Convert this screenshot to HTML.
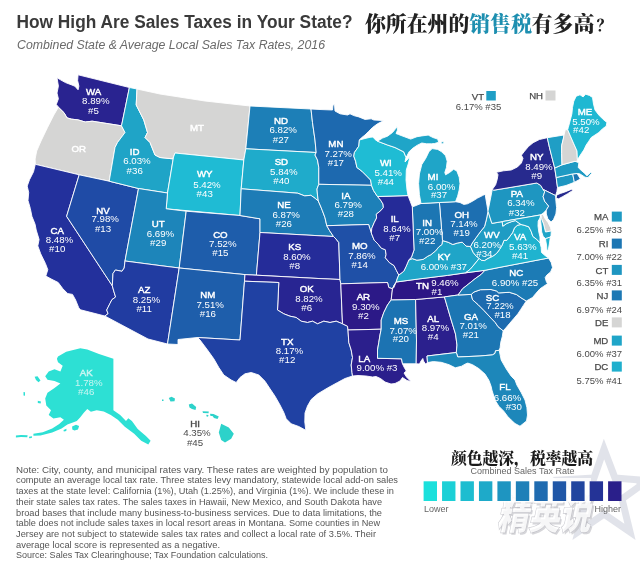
<!DOCTYPE html>
<html lang="zh"><head><meta charset="utf-8"><title>How High Are Sales Taxes in Your State?</title>
<style>
html,body{margin:0;padding:0;background:#fff;}
body{width:640px;height:566px;overflow:hidden;position:relative;font-family:"Liberation Sans","Noto Sans CJK SC",sans-serif;}
svg{position:absolute;left:0;top:0;display:block;}
text{font-family:"Liberation Sans","Noto Sans CJK SC",sans-serif;}
.cn{font-family:"Liberation Serif","Noto Serif CJK SC",serif;font-weight:900;}
</style></head><body>
<svg width="640" height="566" viewBox="0 0 640 566">
<g stroke="#fff" stroke-width="0.9" stroke-linejoin="round">
<path fill="#292390" d="M57.0 77.7 L60.5 79.8 L65.5 82.6 L71.1 84.7 L74.6 86.1 L76.0 87.5 L78.1 89.8 L78.9 86.1 L77.6 80.5 L78.1 74.8 L129.4 87.5 L121.5 125.8 L106.2 123.4 L92.2 121.2 L85.2 122.0 L78.1 119.9 L71.1 119.1 L66.9 117.8 L64.1 112.8 L58.4 107.2 L56.3 104.4 L58.4 98.8 L57.0 93.1 L58.4 86.1 L57.0 77.7Z"/>
<path fill="#d5d5d4" d="M58.4 107.2 L64.1 112.8 L66.9 117.8 L71.1 119.1 L78.1 119.9 L85.2 122.0 L92.2 121.2 L106.2 123.4 L121.5 125.8 L125.0 132.5 L117.5 142.5 L115.0 147.5 L109.2 181.2 L79.2 174.8 L35.3 164.3 L35.1 159.0 L36.7 151.0 L41.0 141.0 L47.5 127.5 L53.8 115.0 L58.4 107.2Z"/>
<path fill="#23309c" d="M35.3 164.3 L33.5 171.8 L29.5 179.7 L27.2 186.1 L28.7 192.5 L28.0 200.4 L30.3 208.4 L31.9 216.3 L35.1 224.3 L36.2 230.0 L39.1 239.5 L37.8 245.9 L40.7 253.8 L45.4 263.4 L47.8 269.7 L45.8 276.1 L51.8 279.3 L58.2 282.5 L62.9 288.8 L67.7 293.6 L72.5 294.4 L75.6 300.0 L78.8 307.9 L80.5 309.8 L104.8 316.0 L108.1 313.7 L106.7 310.0 L108.1 307.2 L110.0 303.4 L111.9 299.7 L115.6 297.0 L113.8 291.2 L112.3 285.8 L66.6 216.3 L79.2 174.8Z"/>
<path fill="#1f4ba6" d="M79.2 174.8 L109.2 181.2 L138.5 188.5 L125.0 261.0 L124.2 268.0 L122.0 271.3 L115.4 270.0 L113.0 273.5 L112.3 285.8 L66.6 216.3 L79.2 174.8Z"/>
<path fill="#1fa4c7" d="M129.4 87.5 L137.0 89.0 L136.2 105.0 L143.8 120.0 L147.5 132.5 L145.0 137.5 L150.0 142.5 L155.0 155.0 L160.0 157.5 L172.5 158.8 L173.5 157.0 L167.5 193.0 L138.5 188.5 L109.2 181.2 L115.0 147.5 L117.5 142.5 L125.0 132.5 L121.5 125.8 L129.4 87.5Z"/>
<path fill="#d5d5d4" d="M137.0 89.0 L160.0 94.0 L205.0 101.0 L250.0 106.0 L245.8 148.8 L243.8 160.0 L175.0 153.0 L173.5 157.0 L172.5 158.8 L160.0 157.5 L155.0 155.0 L150.0 142.5 L145.0 137.5 L147.5 132.5 L143.8 120.0 L136.2 105.0 L137.0 89.0Z"/>
<path fill="#1fbbd4" d="M175.0 153.0 L243.8 160.0 L241.2 188.8 L240.0 215.5 L166.2 208.8 L167.5 193.0 L173.5 157.0Z"/>
<path fill="#1d85ba" d="M138.5 188.5 L167.5 193.0 L166.2 208.8 L186.2 211.2 L179.2 268.0 L160.0 265.6 L125.0 261.0Z"/>
<path fill="#1e5dab" d="M186.2 211.2 L240.0 215.5 L260.0 218.8 L260.0 232.5 L256.4 275.2 L245.0 274.6 L179.2 268.0Z"/>
<path fill="#213ca1" d="M125.0 261.0 L160.0 265.6 L179.2 268.0 L167.5 344.0 L148.0 339.0 L104.8 316.0 L108.1 313.7 L106.7 310.0 L108.1 307.2 L110.0 303.4 L111.9 299.7 L115.6 297.0 L113.8 291.2 L112.3 285.8 L113.0 273.5 L115.4 270.0 L122.0 271.3 L124.2 268.0 L125.0 261.0Z"/>
<path fill="#1e5eab" d="M179.2 268.0 L245.0 274.6 L244.5 281.2 L240.0 340.0 L197.5 337.5 L178.0 339.5 L178.0 344.5 L167.5 344.0Z"/>
<path fill="#1d7fb7" d="M250.0 106.0 L311.0 109.0 L312.5 122.5 L315.0 140.0 L316.2 152.5 L245.8 148.8Z"/>
<path fill="#1fabcb" d="M245.8 148.8 L316.2 152.5 L315.0 155.0 L317.5 160.0 L318.8 167.5 L318.8 184.3 L317.0 189.0 L317.5 195.0 L318.3 201.0 L315.3 198.5 L310.9 195.3 L304.7 195.9 L297.7 193.2 L280.0 191.8 L241.2 188.8 L243.8 160.0Z"/>
<path fill="#1d7cb6" d="M241.2 188.8 L280.0 191.8 L297.7 193.2 L304.7 195.9 L310.9 195.3 L315.3 198.5 L318.3 201.0 L320.5 206.0 L322.4 210.7 L324.0 215.0 L325.0 217.7 L326.8 225.7 L329.5 230.5 L333.5 236.5 L320.0 235.8 L260.0 232.5 L260.0 218.8 L240.0 215.5Z"/>
<path fill="#252c99" d="M260.0 232.5 L320.0 235.8 L333.5 236.5 L336.0 239.0 L338.8 242.5 L340.0 279.5 L320.0 278.6 L256.4 275.2Z"/>
<path fill="#282592" d="M245.0 274.6 L256.4 275.2 L320.0 278.6 L340.0 279.5 L340.8 283.8 L342.5 323.8 L336.2 321.2 L330.0 322.5 L323.8 321.2 L317.5 323.8 L312.5 321.2 L307.5 322.5 L301.2 321.2 L296.2 317.5 L290.0 316.2 L283.8 313.8 L277.5 310.0 L278.8 282.5 L244.5 281.2Z"/>
<path fill="#2041a3" d="M244.5 281.2 L278.8 282.5 L277.5 310.0 L283.8 313.8 L290.0 316.2 L296.2 317.5 L301.2 321.2 L307.5 322.5 L312.5 321.2 L317.5 323.8 L323.8 321.2 L330.0 322.5 L336.2 321.2 L342.5 323.8 L347.5 326.2 L348.0 330.0 L348.8 342.5 L351.2 350.0 L352.5 357.5 L351.2 365.0 L352.0 372.5 L352.5 376.0 L345.0 378.5 L337.5 382.5 L327.5 388.0 L317.5 394.0 L311.2 399.5 L307.5 406.0 L305.0 413.0 L304.8 422.0 L305.8 430.3 L298.8 426.5 L291.2 423.8 L286.2 418.8 L283.8 412.5 L280.0 405.0 L275.0 396.2 L270.0 388.8 L265.0 381.2 L258.8 375.0 L251.2 372.5 L245.0 373.8 L240.0 377.5 L236.2 382.5 L231.2 380.0 L223.8 375.0 L218.8 367.5 L213.8 358.8 L207.5 350.0 L200.0 340.0 L197.5 337.5 L240.0 340.0Z"/>
<path fill="#1d69af" d="M311.0 109.0 L320.0 109.5 L332.5 110.0 L333.0 105.0 L334.5 104.5 L335.0 111.0 L340.0 113.8 L347.5 115.0 L350.0 113.8 L353.8 115.6 L358.8 116.9 L365.0 119.4 L371.2 118.8 L373.8 120.0 L383.8 120.6 L377.5 123.8 L372.5 127.5 L368.8 131.2 L365.0 135.0 L361.2 138.0 L359.4 140.0 L358.8 146.2 L354.4 152.5 L353.8 156.2 L355.6 161.2 L356.9 167.5 L361.9 171.2 L366.9 176.2 L370.6 180.0 L371.5 185.3 L318.8 184.3 L318.8 167.5 L317.5 160.0 L315.0 155.0 L316.2 152.5 L315.0 140.0 L312.5 122.5 L311.0 109.0Z"/>
<path fill="#1d80b8" d="M318.8 184.3 L371.5 185.3 L373.5 190.5 L377.5 196.5 L380.5 200.0 L383.0 204.0 L383.4 207.5 L380.7 210.7 L376.3 214.2 L376.6 218.0 L374.2 222.7 L371.8 228.3 L371.3 233.0 L368.6 224.5 L326.8 225.7 L325.0 217.7 L324.0 215.0 L322.4 210.7 L320.5 206.0 L318.3 201.0 L317.5 195.0 L317.0 189.0 L318.8 184.3Z"/>
<path fill="#1f50a7" d="M326.8 225.7 L368.6 224.5 L371.3 233.0 L374.2 240.2 L378.2 244.2 L381.3 248.2 L385.3 249.7 L386.1 254.5 L385.3 257.7 L389.3 262.5 L394.0 265.6 L396.4 270.4 L398.8 275.0 L397.5 278.0 L396.2 282.0 L395.0 283.8 L392.5 288.8 L388.8 287.5 L387.5 282.5 L340.8 283.8 L340.0 279.5 L338.8 242.5 L336.0 239.0 L333.5 236.5 L329.5 230.5 L326.8 225.7Z"/>
<path fill="#2c1987" d="M340.8 283.8 L387.5 282.5 L388.8 287.5 L392.5 288.8 L395.0 283.8 L392.5 288.8 L391.2 299.8 L387.5 305.0 L383.8 312.5 L381.2 320.0 L381.2 329.2 L348.0 330.0 L347.5 326.2 L342.5 323.8 L340.8 283.8Z"/>
<path fill="#2b1f8c" d="M348.0 330.0 L381.2 329.2 L380.0 335.0 L378.8 342.5 L377.5 350.0 L377.5 358.3 L401.5 358.8 L402.5 363.8 L404.0 367.0 L406.3 371.0 L404.0 373.0 L406.5 377.0 L411.0 381.6 L407.0 380.5 L402.5 377.5 L400.0 381.0 L395.0 383.5 L391.0 384.0 L385.0 382.0 L380.5 378.5 L376.0 376.5 L372.5 377.0 L366.0 376.0 L358.0 375.5 L352.5 376.0 L352.0 372.5 L351.2 365.0 L352.5 357.5 L351.2 350.0 L348.8 342.5 L348.0 330.0Z"/>
<path fill="#1c73b2" d="M391.2 299.8 L415.6 299.5 L416.5 340.0 L416.2 363.8 L402.5 363.8 L401.5 358.8 L377.5 358.3 L377.5 350.0 L378.8 342.5 L380.0 335.0 L381.2 329.2 L381.2 320.0 L383.8 312.5 L387.5 305.0 L391.2 299.8Z"/>
<path fill="#2b208d" d="M415.6 299.5 L444.4 296.9 L451.2 320.0 L455.5 334.0 L457.0 345.0 L456.3 352.5 L427.0 356.0 L427.5 362.5 L425.5 364.0 L423.5 361.0 L422.8 358.5 L421.0 361.0 L419.5 364.0 L416.2 363.8 L416.5 340.0 L415.6 299.5Z"/>
<path fill="#2c1685" d="M396.2 282.0 L420.0 278.8 L447.5 275.4 L465.6 272.8 L485.0 270.3 L481.2 274.4 L475.0 278.8 L468.8 283.8 L462.5 288.8 L458.1 295.0 L444.4 296.9 L415.6 299.5 L391.2 299.8 L392.5 288.8 L393.8 287.5 L396.2 282.0Z"/>
<path fill="#1fa5c8" d="M465.6 272.8 L447.5 275.4 L420.0 278.8 L396.2 282.0 L397.5 278.0 L398.8 275.0 L403.8 271.2 L406.2 266.2 L408.8 260.0 L412.2 258.6 L416.9 260.2 L423.1 259.4 L427.8 256.2 L430.9 254.7 L435.6 250.8 L438.8 246.9 L441.9 244.5 L442.5 240.6 L448.1 242.2 L452.8 244.5 L457.5 243.0 L462.2 242.2 L466.1 246.1 L470.5 246.5 L473.1 252.3 L476.2 256.2 L479.2 258.4 L474.7 264.0 L470.0 269.5 L465.6 272.8Z"/>
<path fill="#1c76b3" d="M444.4 296.9 L458.1 295.0 L471.2 294.4 L472.6 299.8 L478.2 304.7 L483.9 310.4 L491.0 318.1 L495.2 322.4 L498.0 326.6 L503.2 330.8 L502.3 336.5 L500.8 342.1 L500.1 347.8 L499.2 350.3 L495.5 350.8 L495.0 353.4 L492.4 354.9 L480.0 356.0 L457.8 357.0 L456.3 352.5 L457.0 345.0 L455.5 334.0 L451.2 320.0 L444.4 296.9Z"/>
<path fill="#1d87ba" d="M427.0 356.0 L456.3 352.5 L457.8 357.0 L480.0 356.0 L492.4 354.9 L495.0 353.4 L495.5 350.8 L499.2 350.3 L501.2 360.0 L506.2 368.8 L511.2 376.2 L515.0 380.0 L516.9 385.0 L521.2 392.5 L525.0 400.0 L526.9 407.5 L527.5 415.0 L526.5 421.0 L520.0 426.2 L515.0 423.5 L511.2 420.0 L507.5 416.2 L503.8 411.2 L498.8 406.2 L495.0 400.0 L493.1 393.8 L491.9 390.0 L491.2 386.6 L488.9 380.3 L485.0 374.1 L478.8 368.6 L472.5 364.7 L467.8 363.1 L465.5 363.9 L461.6 366.2 L455.3 367.8 L449.0 364.7 L441.2 362.3 L433.4 361.6 L427.5 362.5Z"/>
<path fill="#1d6baf" d="M471.2 294.4 L474.0 292.0 L480.4 289.7 L491.0 289.5 L496.6 291.0 L498.7 292.9 L509.3 292.3 L516.4 294.5 L522.0 298.4 L526.3 301.0 L523.4 305.4 L520.6 309.7 L517.8 313.9 L513.6 318.8 L509.3 323.8 L505.8 328.0 L503.2 330.8 L498.0 326.6 L495.2 322.4 L491.0 318.1 L483.9 310.4 L478.2 304.7 L472.6 299.8 L471.2 294.4Z"/>
<path fill="#1c7bb5" d="M458.1 295.0 L462.5 288.8 L468.8 283.8 L475.0 278.8 L481.2 274.4 L485.0 270.3 L500.0 267.3 L548.5 258.0 L551.2 262.5 L552.5 267.5 L550.6 271.9 L546.9 275.0 L545.2 277.5 L546.2 281.2 L547.5 283.8 L543.8 286.2 L540.0 288.8 L536.2 293.1 L532.5 297.5 L526.3 301.0 L522.0 298.4 L516.4 294.5 L509.3 292.3 L498.7 292.9 L496.6 291.0 L491.0 289.5 L480.4 289.7 L474.0 292.0 L471.2 294.4 L458.1 295.0Z"/>
<path fill="#1fb3cf" d="M465.6 272.8 L470.0 269.5 L474.7 264.0 L479.2 258.4 L481.5 260.3 L484.4 260.6 L488.1 258.3 L492.8 256.2 L496.6 253.4 L499.4 249.7 L502.2 245.0 L504.0 240.3 L506.9 240.3 L509.7 236.6 L512.5 232.8 L514.4 228.1 L517.2 225.3 L521.0 224.5 L524.0 225.2 L528.8 226.8 L531.2 231.5 L532.8 236.3 L536.8 239.5 L540.0 242.7 L541.2 247.5 L541.5 252.5 L545.0 255.5 L548.5 258.0 L500.0 267.3 L485.0 270.3 L465.6 272.8Z M545.5 238.5 L550.3 237.0 L549.5 243.0 L548.3 250.0 L547.0 250.5 L546.5 245.0 L545.8 241.0Z"/>
<path fill="#1f9cc4" d="M470.5 246.5 L472.3 243.0 L476.2 237.5 L480.2 232.0 L484.5 226.6 L486.5 219.0 L488.0 211.2 L491.9 223.4 L502.2 221.6 L502.8 226.2 L506.9 223.4 L511.6 221.6 L515.3 220.6 L518.1 222.5 L521.0 224.5 L517.2 225.3 L514.4 228.1 L512.5 232.8 L509.7 236.6 L506.9 240.3 L504.0 240.3 L502.2 245.0 L499.4 249.7 L496.6 253.4 L492.8 256.2 L488.1 258.3 L484.4 260.6 L481.5 260.3 L479.2 258.4 L476.2 256.2 L473.1 252.3 L470.5 246.5Z"/>
<path fill="#1d6fb1" d="M439.4 202.5 L442.5 240.6 L448.1 242.2 L452.8 244.5 L457.5 243.0 L462.2 242.2 L466.1 246.1 L470.5 246.5 L472.3 243.0 L476.2 237.5 L480.2 232.0 L484.5 226.6 L486.5 219.0 L488.0 211.2 L485.1 194.2 L482.5 195.6 L477.5 198.1 L472.5 201.2 L467.5 203.8 L463.8 204.4 L460.0 202.5 L455.5 201.7Z"/>
<path fill="#1c76b3" d="M412.3 206.8 L414.0 206.3 L421.0 203.5 L439.4 202.5 L442.5 240.6 L441.9 244.5 L438.8 246.9 L435.6 250.8 L430.9 254.7 L427.8 256.2 L423.1 259.4 L416.9 260.2 L412.2 258.6 L408.8 260.0 L411.5 257.0 L414.0 250.0 L412.3 206.8Z"/>
<path fill="#252b98" d="M377.5 196.5 L408.0 195.6 L410.3 201.5 L412.3 206.8 L414.0 250.0 L411.5 257.0 L408.8 260.0 L406.2 266.2 L403.8 271.2 L398.8 275.0 L396.4 270.4 L394.0 265.6 L389.3 262.5 L385.3 257.7 L386.1 254.5 L385.3 249.7 L381.3 248.2 L378.2 244.2 L374.2 240.2 L371.3 233.0 L371.8 228.3 L374.2 222.7 L376.6 218.0 L376.3 214.2 L380.7 210.7 L383.4 207.5 L383.0 204.0 L380.5 200.0 L377.5 196.5Z"/>
<path fill="#1fbcd4" d="M359.4 140.0 L365.0 138.5 L370.0 137.3 L373.0 137.0 L375.0 139.5 L377.5 141.2 L387.5 145.0 L395.0 147.5 L400.0 150.0 L403.8 151.9 L405.0 155.0 L406.0 157.0 L405.0 162.0 L407.0 160.0 L410.0 156.5 L408.5 163.0 L406.3 170.0 L406.0 180.0 L407.0 190.0 L408.0 195.6 L377.5 196.5 L373.5 190.5 L371.5 185.3 L370.6 180.0 L366.9 176.2 L361.9 171.2 L356.9 167.5 L355.6 161.2 L353.8 156.2 L354.4 152.5 L358.8 146.2 L359.4 140.0Z"/>
<path fill="#1fa5c8" d="M377.5 141.2 L382.5 138.1 L387.5 136.2 L392.5 132.5 L395.5 128.8 L397.0 126.5 L397.5 130.0 L396.0 133.5 L398.5 134.5 L404.3 136.7 L410.7 139.1 L417.0 136.7 L421.8 135.9 L428.2 135.1 L432.9 137.5 L437.7 139.1 L438.7 142.3 L434.5 143.5 L431.4 143.8 L426.6 143.8 L421.8 143.0 L417.0 145.4 L412.3 148.6 L409.1 151.8 L407.0 155.8 L406.0 157.0 L405.0 155.0 L403.8 151.9 L400.0 150.0 L395.0 147.5 L387.5 145.0Z M441.0 142.0 L443.5 141.5 L444.0 143.5 L441.5 144.0Z M421.0 203.5 L419.4 194.7 L418.6 183.6 L419.4 174.0 L421.8 164.5 L425.8 158.2 L428.9 151.8 L432.1 148.6 L437.7 149.4 L441.7 151.8 L445.6 155.8 L447.2 161.3 L446.4 167.7 L444.8 172.5 L445.6 174.8 L449.6 172.5 L453.6 169.3 L456.8 170.9 L459.2 177.2 L460.0 183.6 L459.2 190.0 L457.6 196.3 L455.5 201.7 L439.4 202.5Z"/>
<path fill="#1e96c1" d="M485.1 194.2 L492.3 189.4 L488.0 211.2 L491.9 223.4 L502.2 221.6 L540.7 214.9 L543.1 213.3 L546.3 210.1 L548.7 206.1 L544.7 201.3 L543.1 196.6 L544.7 191.8 L543.1 189.4 L540.7 185.4 L536.8 183.0 L493.8 190.2 L492.3 189.4Z"/>
<path fill="#272a8e" d="M492.3 189.4 L495.6 184.8 L497.2 179.4 L498.0 174.7 L496.4 172.3 L503.4 170.8 L511.2 170.0 L517.5 166.9 L521.4 163.0 L523.0 158.3 L521.4 155.2 L524.5 151.2 L528.4 146.6 L533.1 142.7 L539.4 139.5 L547.3 137.7 L549.4 147.2 L551.8 156.8 L554.7 168.0 L556.2 177.5 L557.5 187.5 L556.9 191.6 L555.6 195.6 L543.1 189.4 L540.7 185.4 L536.8 183.0 L493.8 190.2 L492.3 189.4Z M556.0 198.2 L556.8 194.9 L560.5 193.4 L565.0 191.9 L571.7 189.2 L572.8 190.4 L567.3 193.9 L562.3 196.8 L558.6 198.8Z"/>
<path fill="#1c78b4" d="M543.1 189.4 L555.6 195.6 L555.9 201.3 L556.6 207.7 L555.9 214.0 L553.5 219.6 L551.1 222.0 L547.9 218.8 L546.3 214.0 L546.3 210.1 L548.7 206.1 L544.7 201.3 L543.1 196.6 L544.7 191.8Z"/>
<path fill="#d5d5d4" d="M540.7 214.9 L543.0 214.3 L545.0 218.5 L548.0 222.5 L550.5 227.5 L551.3 231.0 L545.5 232.0 L543.5 224.0 L541.5 218.8Z"/>
<path fill="#1fa5c8" d="M502.2 221.6 L540.7 214.9 L540.0 218.0 L538.2 221.0 L538.0 226.0 L538.8 232.0 L540.0 237.0 L540.0 242.7 L536.8 239.5 L532.8 236.3 L531.2 231.5 L528.8 226.8 L524.0 225.2 L521.0 224.5 L518.1 222.5 L515.3 220.6 L511.6 221.6 L506.9 223.4 L502.8 226.2 L502.2 221.6Z M540.7 214.9 L541.5 218.8 L543.5 224.0 L545.5 232.0 L551.3 231.0 L551.0 235.5 L550.3 237.0 L545.5 238.5 L543.2 236.5 L541.7 232.0 L541.3 227.0 L540.8 222.0 L540.3 218.0Z"/>
<path fill="#1e96c1" d="M556.2 177.5 L572.7 173.9 L574.4 182.3 L566.0 185.5 L557.5 187.5Z"/>
<path fill="#1c76b3" d="M572.7 173.9 L577.1 173.5 L580.4 179.0 L574.4 182.3Z"/>
<path fill="#1e9ac3" d="M554.7 168.0 L562.0 164.8 L574.9 161.3 L576.8 161.8 L578.8 163.1 L578.2 167.5 L581.0 170.2 L584.2 173.0 L587.0 175.8 L590.8 172.2 L591.6 173.3 L588.0 177.6 L585.0 177.2 L582.0 175.2 L579.5 173.7 L577.1 173.5 L572.7 173.9 L556.2 177.5Z"/>
<path fill="#1f9ec5" d="M547.3 137.7 L564.0 135.0 L563.5 138.0 L561.7 145.6 L561.7 153.6 L562.0 164.8 L554.7 168.0 L551.8 156.8 L549.4 147.2Z"/>
<path fill="#d5d5d4" d="M565.3 129.7 L567.7 129.7 L573.0 142.0 L577.0 151.0 L577.4 159.6 L576.8 161.8 L574.9 161.3 L562.0 164.8 L561.7 153.6 L561.7 145.6 L563.5 138.0 L564.0 135.0Z"/>
<path fill="#1fb8d2" d="M567.7 129.7 L568.3 127.5 L570.0 121.2 L571.9 113.8 L572.5 107.5 L573.8 101.2 L576.2 96.2 L580.0 94.8 L583.1 96.9 L585.6 94.2 L589.4 95.4 L592.5 97.5 L593.5 104.0 L595.0 110.0 L598.8 115.0 L602.5 118.8 L606.9 122.5 L606.2 126.2 L602.5 128.8 L598.8 132.5 L595.0 135.0 L591.2 137.5 L588.8 141.2 L586.2 145.0 L583.8 150.0 L581.2 153.8 L578.8 157.5 L577.4 159.6 L577.0 151.0 L573.0 142.0 L567.7 129.7Z"/>
<path fill="#2de0d4" stroke="none" d="M58.0 356.4 L66.2 351.7 L80.3 348.2 L87.3 349.4 L99.0 354.0 L113.4 358.8 L113.4 410.3 L120.2 415.0 L126.0 420.9 L128.3 418.2 L131.9 420.9 L137.7 429.0 L145.9 436.1 L150.6 440.8 L148.3 444.6 L141.2 440.8 L134.2 433.8 L124.8 426.7 L117.8 419.7 L110.8 415.0 L103.8 411.5 L96.7 410.3 L90.9 411.7 L87.3 409.1 L83.8 412.7 L80.3 417.3 L76.8 421.0 L72.1 422.8 L67.4 424.5 L61.6 428.5 L52.2 432.6 L40.5 435.6 L33.4 435.8 L33.4 433.8 L42.8 432.2 L52.2 428.5 L59.2 424.0 L63.9 419.7 L60.4 417.3 L53.4 418.5 L48.7 415.0 L51.0 410.3 L46.3 405.6 L45.2 398.6 L47.5 392.7 L54.5 388.0 L60.4 383.4 L54.5 381.0 L47.5 379.8 L45.2 376.3 L48.7 371.6 L54.5 369.3 L60.4 371.6 L62.7 365.8 L58.0 362.3 L56.9 358.8Z M34.6 376.8 L37.5 376.3 L40.5 380.5 L38.5 382.2 L36.0 380.0Z M23.5 392.0 L25.0 392.3 L25.0 395.8 L23.5 395.5Z M37.8 400.8 L41.0 401.6 L40.6 403.4 L37.8 403.0Z M15.9 435.6 L21.0 434.9 L27.6 435.3 L27.3 437.3 L21.0 436.9 L15.9 437.6Z M72.1 426.5 L76.0 424.8 L79.1 426.0 L78.0 429.5 L74.5 430.6 L72.3 429.5Z M29.0 436.8 L32.0 436.2 L31.8 438.0 L29.2 438.2Z M63.5 430.0 L66.5 428.8 L66.3 431.0 L63.8 431.6Z"/>
<path fill="#2dd2ca" stroke="none" d="M162.0 399.5 L163.5 399.5 L163.5 401.0 L162.0 401.0Z M168.8 398.0 L171.5 396.8 L175.0 398.5 L174.5 401.2 L170.5 401.5Z M188.8 404.5 L192.0 403.5 L196.2 407.0 L195.5 410.0 L192.0 409.0 L189.5 407.5Z M202.5 411.2 L208.8 411.6 L208.5 413.2 L203.0 413.0Z M206.5 414.8 L208.5 415.0 L208.0 416.8 L206.3 416.3Z M210.0 413.8 L213.5 414.0 L218.8 416.5 L217.5 419.0 L214.0 418.0 L212.5 416.0 L210.5 416.0Z M221.2 423.8 L228.8 427.5 L233.8 433.8 L231.2 438.8 L225.0 442.5 L221.2 440.0 L218.8 432.5Z"/>
</g>
<text x="93.5" y="94.7" font-size="9.7" fill="#fff" font-weight="400" text-anchor="middle"  stroke="#fff" stroke-width="0.45">WA</text>
<text x="95.8" y="104.2" font-size="9.7" fill="#fff" font-weight="400" text-anchor="middle" >8.89%</text>
<text x="93.5" y="113.5" font-size="9.7" fill="#fff" font-weight="400" text-anchor="middle" >#5</text>
<text x="134.7" y="154.7" font-size="9.7" fill="#fff" font-weight="400" text-anchor="middle"  stroke="#fff" stroke-width="0.45">ID</text>
<text x="137.0" y="164.2" font-size="9.7" fill="#fff" font-weight="400" text-anchor="middle" >6.03%</text>
<text x="134.7" y="173.5" font-size="9.7" fill="#fff" font-weight="400" text-anchor="middle" >#36</text>
<text x="280.9" y="123.5" font-size="9.7" fill="#fff" font-weight="400" text-anchor="middle"  stroke="#fff" stroke-width="0.45">ND</text>
<text x="283.2" y="133.0" font-size="9.7" fill="#fff" font-weight="400" text-anchor="middle" >6.82%</text>
<text x="280.9" y="142.5" font-size="9.7" fill="#fff" font-weight="400" text-anchor="middle" >#27</text>
<text x="281.4" y="164.7" font-size="9.7" fill="#fff" font-weight="400" text-anchor="middle"  stroke="#fff" stroke-width="0.45">SD</text>
<text x="283.8" y="174.7" font-size="9.7" fill="#fff" font-weight="400" text-anchor="middle" >5.84%</text>
<text x="281.4" y="183.5" font-size="9.7" fill="#fff" font-weight="400" text-anchor="middle" >#40</text>
<text x="204.7" y="177.2" font-size="9.7" fill="#fff" font-weight="400" text-anchor="middle"  stroke="#fff" stroke-width="0.45">WY</text>
<text x="207.0" y="187.5" font-size="9.7" fill="#fff" font-weight="400" text-anchor="middle" >5.42%</text>
<text x="204.7" y="196.7" font-size="9.7" fill="#fff" font-weight="400" text-anchor="middle" >#43</text>
<text x="283.9" y="208.0" font-size="9.7" fill="#fff" font-weight="400" text-anchor="middle"  stroke="#fff" stroke-width="0.45">NE</text>
<text x="286.2" y="217.5" font-size="9.7" fill="#fff" font-weight="400" text-anchor="middle" >6.87%</text>
<text x="283.9" y="226.7" font-size="9.7" fill="#fff" font-weight="400" text-anchor="middle" >#26</text>
<text x="220.4" y="237.7" font-size="9.7" fill="#fff" font-weight="400" text-anchor="middle"  stroke="#fff" stroke-width="0.45">CO</text>
<text x="222.8" y="247.0" font-size="9.7" fill="#fff" font-weight="400" text-anchor="middle" >7.52%</text>
<text x="220.4" y="256.0" font-size="9.7" fill="#fff" font-weight="400" text-anchor="middle" >#15</text>
<text x="294.7" y="250.2" font-size="9.7" fill="#fff" font-weight="400" text-anchor="middle"  stroke="#fff" stroke-width="0.45">KS</text>
<text x="297.0" y="259.7" font-size="9.7" fill="#fff" font-weight="400" text-anchor="middle" >8.60%</text>
<text x="294.7" y="268.5" font-size="9.7" fill="#fff" font-weight="400" text-anchor="middle" >#8</text>
<text x="158.2" y="227.2" font-size="9.7" fill="#fff" font-weight="400" text-anchor="middle"  stroke="#fff" stroke-width="0.45">UT</text>
<text x="160.5" y="236.5" font-size="9.7" fill="#fff" font-weight="400" text-anchor="middle" >6.69%</text>
<text x="158.2" y="245.8" font-size="9.7" fill="#fff" font-weight="400" text-anchor="middle" >#29</text>
<text x="103.0" y="213.5" font-size="9.7" fill="#fff" font-weight="400" text-anchor="middle"  stroke="#fff" stroke-width="0.45">NV</text>
<text x="105.2" y="222.2" font-size="9.7" fill="#fff" font-weight="400" text-anchor="middle" >7.98%</text>
<text x="103.0" y="231.7" font-size="9.7" fill="#fff" font-weight="400" text-anchor="middle" >#13</text>
<text x="57.2" y="233.5" font-size="9.7" fill="#fff" font-weight="400" text-anchor="middle"  stroke="#fff" stroke-width="0.45">CA</text>
<text x="59.5" y="242.7" font-size="9.7" fill="#fff" font-weight="400" text-anchor="middle" >8.48%</text>
<text x="57.2" y="251.5" font-size="9.7" fill="#fff" font-weight="400" text-anchor="middle" >#10</text>
<text x="144.2" y="292.7" font-size="9.7" fill="#fff" font-weight="400" text-anchor="middle"  stroke="#fff" stroke-width="0.45">AZ</text>
<text x="146.5" y="303.0" font-size="9.7" fill="#fff" font-weight="400" text-anchor="middle" >8.25%</text>
<text x="144.2" y="312.2" font-size="9.7" fill="#fff" font-weight="400" text-anchor="middle" >#11</text>
<text x="207.9" y="297.5" font-size="9.7" fill="#fff" font-weight="400" text-anchor="middle"  stroke="#fff" stroke-width="0.45">NM</text>
<text x="210.2" y="307.8" font-size="9.7" fill="#fff" font-weight="400" text-anchor="middle" >7.51%</text>
<text x="207.9" y="317.2" font-size="9.7" fill="#fff" font-weight="400" text-anchor="middle" >#16</text>
<text x="306.7" y="292.2" font-size="9.7" fill="#fff" font-weight="400" text-anchor="middle"  stroke="#fff" stroke-width="0.45">OK</text>
<text x="309.0" y="302.2" font-size="9.7" fill="#fff" font-weight="400" text-anchor="middle" >8.82%</text>
<text x="306.7" y="311.0" font-size="9.7" fill="#fff" font-weight="400" text-anchor="middle" >#6</text>
<text x="287.2" y="344.7" font-size="9.7" fill="#fff" font-weight="400" text-anchor="middle"  stroke="#fff" stroke-width="0.45">TX</text>
<text x="289.5" y="354.0" font-size="9.7" fill="#fff" font-weight="400" text-anchor="middle" >8.17%</text>
<text x="287.2" y="363.0" font-size="9.7" fill="#fff" font-weight="400" text-anchor="middle" >#12</text>
<text x="363.4" y="300.2" font-size="9.7" fill="#fff" font-weight="400" text-anchor="middle"  stroke="#fff" stroke-width="0.45">AR</text>
<text x="365.8" y="310.2" font-size="9.7" fill="#fff" font-weight="400" text-anchor="middle" >9.30%</text>
<text x="363.4" y="319.2" font-size="9.7" fill="#fff" font-weight="400" text-anchor="middle" >#2</text>
<text x="359.7" y="249.2" font-size="9.7" fill="#fff" font-weight="400" text-anchor="middle"  stroke="#fff" stroke-width="0.45">MO</text>
<text x="362.0" y="258.5" font-size="9.7" fill="#fff" font-weight="400" text-anchor="middle" >7.86%</text>
<text x="359.7" y="268.0" font-size="9.7" fill="#fff" font-weight="400" text-anchor="middle" >#14</text>
<text x="345.9" y="199.0" font-size="9.7" fill="#fff" font-weight="400" text-anchor="middle"  stroke="#fff" stroke-width="0.45">IA</text>
<text x="348.2" y="207.7" font-size="9.7" fill="#fff" font-weight="400" text-anchor="middle" >6.79%</text>
<text x="345.9" y="216.7" font-size="9.7" fill="#fff" font-weight="400" text-anchor="middle" >#28</text>
<text x="335.9" y="147.2" font-size="9.7" fill="#fff" font-weight="400" text-anchor="middle"  stroke="#fff" stroke-width="0.45">MN</text>
<text x="338.2" y="157.2" font-size="9.7" fill="#fff" font-weight="400" text-anchor="middle" >7.27%</text>
<text x="335.9" y="166.0" font-size="9.7" fill="#fff" font-weight="400" text-anchor="middle" >#17</text>
<text x="385.9" y="166.0" font-size="9.7" fill="#fff" font-weight="400" text-anchor="middle"  stroke="#fff" stroke-width="0.45">WI</text>
<text x="388.2" y="175.5" font-size="9.7" fill="#fff" font-weight="400" text-anchor="middle" >5.41%</text>
<text x="385.9" y="184.7" font-size="9.7" fill="#fff" font-weight="400" text-anchor="middle" >#44</text>
<text x="394.7" y="222.2" font-size="9.7" fill="#fff" font-weight="400" text-anchor="middle"  stroke="#fff" stroke-width="0.45">IL</text>
<text x="397.0" y="231.7" font-size="9.7" fill="#fff" font-weight="400" text-anchor="middle" >8.64%</text>
<text x="394.7" y="241.0" font-size="9.7" fill="#fff" font-weight="400" text-anchor="middle" >#7</text>
<text x="427.2" y="226.0" font-size="9.7" fill="#fff" font-weight="400" text-anchor="middle"  stroke="#fff" stroke-width="0.45">IN</text>
<text x="429.5" y="235.2" font-size="9.7" fill="#fff" font-weight="400" text-anchor="middle" >7.00%</text>
<text x="427.2" y="244.0" font-size="9.7" fill="#fff" font-weight="400" text-anchor="middle" >#22</text>
<text x="461.7" y="217.5" font-size="9.7" fill="#fff" font-weight="400" text-anchor="middle"  stroke="#fff" stroke-width="0.45">OH</text>
<text x="464.0" y="226.9" font-size="9.7" fill="#fff" font-weight="400" text-anchor="middle" >7.14%</text>
<text x="461.7" y="235.7" font-size="9.7" fill="#fff" font-weight="400" text-anchor="middle" >#19</text>
<text x="400.9" y="324.2" font-size="9.7" fill="#fff" font-weight="400" text-anchor="middle"  stroke="#fff" stroke-width="0.45">MS</text>
<text x="403.2" y="333.5" font-size="9.7" fill="#fff" font-weight="400" text-anchor="middle" >7.07%</text>
<text x="400.9" y="342.2" font-size="9.7" fill="#fff" font-weight="400" text-anchor="middle" >#20</text>
<text x="433.2" y="321.5" font-size="9.7" fill="#fff" font-weight="400" text-anchor="middle"  stroke="#fff" stroke-width="0.45">AL</text>
<text x="435.5" y="330.5" font-size="9.7" fill="#fff" font-weight="400" text-anchor="middle" >8.97%</text>
<text x="433.2" y="339.7" font-size="9.7" fill="#fff" font-weight="400" text-anchor="middle" >#4</text>
<text x="470.9" y="319.7" font-size="9.7" fill="#fff" font-weight="400" text-anchor="middle"  stroke="#fff" stroke-width="0.45">GA</text>
<text x="473.2" y="329.0" font-size="9.7" fill="#fff" font-weight="400" text-anchor="middle" >7.01%</text>
<text x="470.9" y="338.0" font-size="9.7" fill="#fff" font-weight="400" text-anchor="middle" >#21</text>
<text x="536.7" y="159.7" font-size="9.7" fill="#fff" font-weight="400" text-anchor="middle"  stroke="#fff" stroke-width="0.45">NY</text>
<text x="539.0" y="169.7" font-size="9.7" fill="#fff" font-weight="400" text-anchor="middle" >8.49%</text>
<text x="536.7" y="178.5" font-size="9.7" fill="#fff" font-weight="400" text-anchor="middle" >#9</text>
<text x="78.8" y="152.2" font-size="9.7" fill="#fff" font-weight="400" text-anchor="middle"  stroke="#fff" stroke-width="0.45">OR</text>
<text x="197.0" y="130.5" font-size="9.7" fill="#fff" font-weight="400" text-anchor="middle"  stroke="#fff" stroke-width="0.45">MT</text>
<text x="433.0" y="179.8" font-size="9.7" fill="#fff" font-weight="400" text-anchor="middle"  stroke="#fff" stroke-width="0.45">MI</text>
<text x="441.6" y="190.0" font-size="9.7" fill="#fff" font-weight="400" text-anchor="middle" >6.00%</text>
<text x="439.0" y="198.3" font-size="9.7" fill="#fff" font-weight="400" text-anchor="middle" >#37</text>
<text x="444.0" y="260.0" font-size="9.7" fill="#fff" font-weight="400" text-anchor="middle"  stroke="#fff" stroke-width="0.45">KY</text>
<text x="443.8" y="269.7" font-size="9.7" fill="#fff" font-weight="400" text-anchor="middle" >6.00% #37</text>
<text x="422.5" y="289.0" font-size="9.7" fill="#fff" font-weight="400" text-anchor="middle"  stroke="#fff" stroke-width="0.45">TN</text>
<text x="445.0" y="285.5" font-size="9.7" fill="#fff" font-weight="400" text-anchor="middle" >9.46%</text>
<text x="437.0" y="294.7" font-size="9.7" fill="#fff" font-weight="400" text-anchor="middle" >#1</text>
<text x="364.2" y="361.5" font-size="9.7" fill="#fff" font-weight="400" text-anchor="middle"  stroke="#fff" stroke-width="0.45">LA</text>
<text x="377.0" y="370.5" font-size="9.7" fill="#fff" font-weight="400" text-anchor="middle" >9.00% #3</text>
<text x="492.5" y="300.5" font-size="9.7" fill="#fff" font-weight="400" text-anchor="middle"  stroke="#fff" stroke-width="0.45">SC</text>
<text x="500.0" y="309.2" font-size="9.7" fill="#fff" font-weight="400" text-anchor="middle" >7.22%</text>
<text x="502.5" y="318.0" font-size="9.7" fill="#fff" font-weight="400" text-anchor="middle" >#18</text>
<text x="516.2" y="276.0" font-size="9.7" fill="#fff" font-weight="400" text-anchor="middle"  stroke="#fff" stroke-width="0.45">NC</text>
<text x="515.0" y="286.0" font-size="9.7" fill="#fff" font-weight="400" text-anchor="middle" >6.90% #25</text>
<text x="520.0" y="240.1" font-size="9.7" fill="#fff" font-weight="400" text-anchor="middle"  stroke="#fff" stroke-width="0.45">VA</text>
<text x="522.8" y="249.5" font-size="9.7" fill="#fff" font-weight="400" text-anchor="middle" >5.63%</text>
<text x="520.0" y="258.5" font-size="9.7" fill="#fff" font-weight="400" text-anchor="middle" >#41</text>
<text x="491.9" y="238.2" font-size="9.7" fill="#fff" font-weight="400" text-anchor="middle"  stroke="#fff" stroke-width="0.45">WV</text>
<text x="487.2" y="247.9" font-size="9.7" fill="#fff" font-weight="400" text-anchor="middle" >6.20%</text>
<text x="484.4" y="256.5" font-size="9.7" fill="#fff" font-weight="400" text-anchor="middle" >#34</text>
<text x="516.9" y="197.4" font-size="9.7" fill="#fff" font-weight="400" text-anchor="middle"  stroke="#fff" stroke-width="0.45">PA</text>
<text x="520.9" y="206.1" font-size="9.7" fill="#fff" font-weight="400" text-anchor="middle" >6.34%</text>
<text x="516.9" y="215.5" font-size="9.7" fill="#fff" font-weight="400" text-anchor="middle" >#32</text>
<text x="584.9" y="115.0" font-size="9.7" fill="#fff" font-weight="400" text-anchor="middle"  stroke="#fff" stroke-width="0.45">ME</text>
<text x="586.0" y="124.5" font-size="9.7" fill="#fff" font-weight="400" text-anchor="middle" >5.50%</text>
<text x="581.2" y="133.2" font-size="9.7" fill="#fff" font-weight="400" text-anchor="middle" >#42</text>
<text x="505.0" y="389.7" font-size="9.7" fill="#fff" font-weight="400" text-anchor="middle"  stroke="#fff" stroke-width="0.45">FL</text>
<text x="507.5" y="401.0" font-size="9.7" fill="#fff" font-weight="400" text-anchor="middle" >6.66%</text>
<text x="513.8" y="409.7" font-size="9.7" fill="#fff" font-weight="400" text-anchor="middle" >#30</text>
<text x="86.2" y="376.0" font-size="9.7" fill="#c9f5f2" font-weight="400" text-anchor="middle"  stroke="#c9f5f2" stroke-width="0.45">AK</text>
<text x="88.8" y="386.0" font-size="9.7" fill="#c9f5f2" font-weight="400" text-anchor="middle" >1.78%</text>
<text x="86.2" y="394.7" font-size="9.7" fill="#c9f5f2" font-weight="400" text-anchor="middle" >#46</text>
<text x="195.0" y="427.2" font-size="9.7" fill="#4a4a4a" font-weight="400" text-anchor="middle"  stroke="#4a4a4a" stroke-width="0.45">HI</text>
<text x="197.0" y="436.0" font-size="9.7" fill="#4a4a4a" font-weight="400" text-anchor="middle" >4.35%</text>
<text x="195.0" y="445.5" font-size="9.7" fill="#4a4a4a" font-weight="400" text-anchor="middle" >#45</text>
<text x="484.0" y="99.5" font-size="9.6" fill="#4a4a4a" font-weight="400" text-anchor="end" stroke="#4a4a4a" stroke-width="0.25">VT</text>
<rect x="486.3" y="91.0" width="9.5" height="9.5" fill="#1f9ec5"/>
<text x="478.5" y="109.9" font-size="9.5" fill="#4a4a4a" font-weight="400" text-anchor="middle" >6.17% #35</text>
<text x="543.0" y="99.0" font-size="9.6" fill="#4a4a4a" font-weight="400" text-anchor="end" stroke="#4a4a4a" stroke-width="0.25">NH</text>
<rect x="545.5" y="90.5" width="10" height="10" fill="#d5d5d4"/>
<text x="608.3" y="220.4" font-size="9.6" fill="#4a4a4a" font-weight="400" text-anchor="end" stroke="#4a4a4a" stroke-width="0.25">MA</text>
<rect x="611.8" y="211.6" width="10" height="10" fill="#1e9ac3"/>
<text x="622.0" y="233.4" font-size="9.5" fill="#4a4a4a" font-weight="400" text-anchor="end" >6.25% #33</text>
<text x="608.3" y="247.4" font-size="9.6" fill="#4a4a4a" font-weight="400" text-anchor="end" stroke="#4a4a4a" stroke-width="0.25">RI</text>
<rect x="611.8" y="238.6" width="10" height="10" fill="#1c76b3"/>
<text x="622.0" y="259.7" font-size="9.5" fill="#4a4a4a" font-weight="400" text-anchor="end" >7.00% #22</text>
<text x="608.3" y="273.6" font-size="9.6" fill="#4a4a4a" font-weight="400" text-anchor="end" stroke="#4a4a4a" stroke-width="0.25">CT</text>
<rect x="611.8" y="264.9" width="10" height="10" fill="#1e96c1"/>
<text x="622.0" y="285.9" font-size="9.5" fill="#4a4a4a" font-weight="400" text-anchor="end" >6.35% #31</text>
<text x="608.3" y="299.1" font-size="9.6" fill="#4a4a4a" font-weight="400" text-anchor="end" stroke="#4a4a4a" stroke-width="0.25">NJ</text>
<rect x="611.8" y="290.4" width="10" height="10" fill="#1c78b4"/>
<text x="622.0" y="312.7" font-size="9.5" fill="#4a4a4a" font-weight="400" text-anchor="end" >6.97% #24</text>
<text x="608.3" y="326.1" font-size="9.6" fill="#4a4a4a" font-weight="400" text-anchor="end" stroke="#4a4a4a" stroke-width="0.25">DE</text>
<rect x="611.8" y="317.4" width="10" height="10" fill="#d5d5d4"/>
<text x="608.3" y="344.4" font-size="9.6" fill="#4a4a4a" font-weight="400" text-anchor="end" stroke="#4a4a4a" stroke-width="0.25">MD</text>
<rect x="611.8" y="335.6" width="10" height="10" fill="#1fa5c8"/>
<text x="622.0" y="357.4" font-size="9.5" fill="#4a4a4a" font-weight="400" text-anchor="end" >6.00% #37</text>
<text x="608.3" y="370.4" font-size="9.6" fill="#4a4a4a" font-weight="400" text-anchor="end" stroke="#4a4a4a" stroke-width="0.25">DC</text>
<rect x="611.8" y="361.6" width="10" height="10" fill="#1fafcd"/>
<text x="622.0" y="383.9" font-size="9.5" fill="#4a4a4a" font-weight="400" text-anchor="end" >5.75% #41</text>
<text x="16.5" y="28.3" font-size="17.6" font-weight="700" fill="#3a3a3a" textLength="336" lengthAdjust="spacingAndGlyphs">How High Are Sales Taxes in Your State?</text>
<text class="cn" x="365" y="31.2" font-size="20.85" fill="#222">你所在州的<tspan fill="#1d8fb0">销售税</tspan>有多高<tspan font-size="15.5" dx="2.5" dy="-0.5">？</tspan></text>
<text x="17" y="49.3" font-size="12" font-style="italic" fill="#6a6a6a" textLength="308" lengthAdjust="spacingAndGlyphs">Combined State &amp; Average Local Sales Tax Rates, 2016</text>
<text x="16" y="472.6" font-size="8.8" fill="#555" textLength="372" lengthAdjust="spacingAndGlyphs">Note: City, county, and municipal rates vary. These rates are weighted by population to</text>
<text x="16" y="483.3" font-size="8.8" fill="#555" textLength="382" lengthAdjust="spacingAndGlyphs">compute an average local tax rate. Three states levy mandatory, statewide local add-on sales</text>
<text x="16" y="494.0" font-size="8.8" fill="#555" textLength="378" lengthAdjust="spacingAndGlyphs">taxes at the state level: California (1%), Utah (1.25%), and Virginia (1%). We include these in</text>
<text x="16" y="504.8" font-size="8.8" fill="#555" textLength="366" lengthAdjust="spacingAndGlyphs">their state sales tax rates. The sales taxes in Hawaii, New Mexico, and South Dakota have</text>
<text x="16" y="515.5" font-size="8.8" fill="#555" textLength="366" lengthAdjust="spacingAndGlyphs">broad bases that include many business-to-business services. Due to data limitations, the</text>
<text x="16" y="526.2" font-size="8.8" fill="#555" textLength="364" lengthAdjust="spacingAndGlyphs">table does not include sales taxes in local resort areas in Montana. Some counties in New</text>
<text x="16" y="536.9" font-size="8.8" fill="#555" textLength="360" lengthAdjust="spacingAndGlyphs">Jersey are not subject to statewide sales tax rates and collect a local rate of 3.5%. Their</text>
<text x="16" y="547.6" font-size="8.8" fill="#555" textLength="204" lengthAdjust="spacingAndGlyphs">average local score is represented as a negative.</text>
<text x="16" y="558.4" font-size="8.8" fill="#555" textLength="252" lengthAdjust="spacingAndGlyphs">Source: Sales Tax Clearinghouse; Tax Foundation calculations.</text>
<polygon points="604,449 615,478 640,480 640,486 622,499 630,532 604,514 578,532 586,499 562,480 594,478" fill="none" stroke="#c3c8d6" stroke-width="7" opacity="0.5"/>
<g transform="translate(497,529) scale(0.8,1)" font-size="39" font-weight="900" font-style="italic" style="font-family:'Noto Sans CJK SC',sans-serif"><text x="2" y="1.5" fill="#c4c4c9" opacity="0.7">精英说</text><text x="0" y="0" fill="#fff" stroke="#bdbdc4" stroke-width="1.3" opacity="0.8" style="paint-order:stroke">精英说</text></g>
<rect x="495" y="478" width="96" height="24.5" fill="#fff" opacity="0.86"/>
<text class="cn" x="522" y="463.5" font-size="16" fill="#1a1a1a" text-anchor="middle" textLength="142" lengthAdjust="spacingAndGlyphs">颜色越深，税率越高</text>
<text x="522.5" y="473.7" font-size="9" fill="#666" font-weight="400" text-anchor="middle" >Combined Sales Tax Rate</text>
<rect x="423.60" y="481.3" width="13.4" height="19.7" fill="#1be0dc"/>
<rect x="442.05" y="481.3" width="13.4" height="19.7" fill="#1cd0d6"/>
<rect x="460.50" y="481.3" width="13.4" height="19.7" fill="#1dbdd0"/>
<rect x="478.95" y="481.3" width="13.4" height="19.7" fill="#1eaac9"/>
<rect x="497.40" y="481.3" width="13.4" height="19.7" fill="#1e95c1"/>
<rect x="515.85" y="481.3" width="13.4" height="19.7" fill="#1f80b8"/>
<rect x="534.30" y="481.3" width="13.4" height="19.7" fill="#1f6bb0"/>
<rect x="552.75" y="481.3" width="13.4" height="19.7" fill="#2057a7"/>
<rect x="571.20" y="481.3" width="13.4" height="19.7" fill="#21459f"/>
<rect x="589.65" y="481.3" width="13.4" height="19.7" fill="#243396"/>
<rect x="608.10" y="481.3" width="13.4" height="19.7" fill="#2a1f8a"/>
<text x="424.0" y="512.2" font-size="9" fill="#666" font-weight="400" text-anchor="start" >Lower</text>
<text x="621.0" y="512.2" font-size="9" fill="#666" font-weight="400" text-anchor="end" >Higher</text>
</svg>
</body></html>
